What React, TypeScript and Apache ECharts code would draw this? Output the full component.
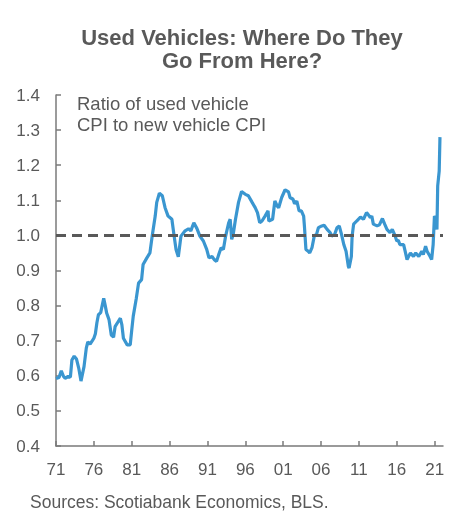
import React, { useEffect, useRef } from "react";
import * as echarts from "echarts";

const years: number[] = [
  1971.0, 1971.4, 1971.7, 1972.0, 1972.2, 1972.6, 1972.9, 1973.1, 1973.4, 1973.7,
  1974.0, 1974.3, 1974.7, 1975.0, 1975.2, 1975.5, 1975.8, 1976.0, 1976.2, 1976.4,
  1976.6, 1976.9, 1977.3, 1977.5, 1977.7, 1978.0, 1978.3, 1978.6, 1978.8, 1979.2,
  1979.5, 1979.7, 1979.9, 1980.4, 1980.8, 1981.0, 1981.2, 1981.6, 1981.9, 1982.3,
  1982.5, 1983.0, 1983.4, 1983.7, 1984.1, 1984.3, 1984.65, 1985.04, 1985.4, 1985.8,
  1986.3, 1986.6, 1986.85, 1987.15, 1987.5, 1988.0, 1988.5, 1988.8, 1989.2, 1989.6,
  1990.0, 1990.46, 1990.9, 1991.2, 1991.6, 1991.9, 1992.2, 1992.5, 1992.8, 1993.1,
  1993.4, 1993.8, 1994.0, 1994.2, 1994.4, 1994.7, 1995.1, 1995.5, 1996.0, 1996.4,
  1996.9, 1997.3, 1997.6, 1997.9, 1998.2, 1998.6, 1999.0, 1999.1, 1999.6, 1999.9,
  2000.2, 2000.4, 2000.8, 2001.25, 2001.7, 2001.9, 2002.3, 2002.5, 2002.8, 2003.1,
  2003.4, 2003.7, 2003.8, 2004.0, 2004.3, 2004.5, 2004.8, 2005.1, 2005.4, 2005.65,
  2006.1, 2006.4, 2006.8, 2007.2, 2007.4, 2007.8, 2008.1, 2008.4, 2008.7, 2009.0,
  2009.3, 2009.6, 2009.7, 2010.0, 2010.1, 2010.3, 2010.7, 2011.2, 2011.6, 2012.0,
  2012.2, 2012.5, 2012.7, 2012.9, 2013.4, 2013.7, 2014.1, 2014.4, 2014.7, 2015.1,
  2015.4, 2015.7, 2016.0, 2016.2, 2016.4, 2016.9, 2017.1, 2017.35, 2017.55, 2017.8,
  2018.2, 2018.5, 2018.9, 2019.3, 2019.5, 2019.8, 2020.0, 2020.4, 2020.6, 2020.8,
  2020.97, 2021.1, 2021.3, 2021.4, 2021.6, 2021.7,
];

const ratio: number[] = [
  0.592, 0.595, 0.614, 0.598, 0.593, 0.598, 0.596, 0.645, 0.656, 0.648,
  0.622, 0.585, 0.626, 0.679, 0.697, 0.69, 0.7, 0.707, 0.72, 0.751,
  0.774, 0.78, 0.821, 0.8, 0.778, 0.76, 0.716, 0.71, 0.74, 0.754,
  0.764, 0.745, 0.707, 0.688, 0.688, 0.73, 0.77, 0.82, 0.864, 0.874,
  0.917, 0.936, 0.95, 0.998, 1.055, 1.094, 1.12, 1.113, 1.079, 1.055,
  1.046, 0.998, 0.96, 0.939, 0.998, 1.012, 1.019, 1.013, 1.036, 1.02,
  0.998, 0.984, 0.96, 0.936, 0.94, 0.931, 0.926, 0.946, 0.965, 0.96,
  0.998, 1.036, 1.046, 0.989, 1.003, 1.046, 1.094, 1.125, 1.117, 1.113,
  1.094, 1.079, 1.065, 1.036, 1.041, 1.055, 1.07, 1.041, 1.046, 1.098,
  1.084, 1.079, 1.108, 1.13, 1.124, 1.108, 1.103, 1.09, 1.098, 1.07,
  1.07, 1.055, 1.027, 0.96, 0.955, 0.95, 0.965, 0.998, 1.003, 1.022,
  1.027, 1.029, 1.017, 1.008, 0.998, 1.003, 1.022, 1.027, 1.003, 0.974,
  0.955, 0.912, 0.907, 0.94, 0.998, 1.032, 1.041, 1.052, 1.046, 1.065,
  1.06, 1.051, 1.055, 1.032, 1.027, 1.03, 1.048, 1.032, 1.017, 1.008,
  1.017, 1.003, 0.984, 0.986, 0.974, 0.974, 0.955, 0.931, 0.94, 0.95,
  0.94, 0.95, 0.94, 0.955, 0.945, 0.969, 0.955, 0.94, 0.931, 0.974,
  1.055, 1.05, 1.017, 1.141, 1.184, 1.28,
];

const startYear = 1971;
const tickOffsets: number[] = [0, 5, 10, 15, 20, 25, 30, 35, 40, 45, 50];
const yTicks: number[] = [0.4, 0.5, 0.6, 0.7, 0.8, 0.9, 1.0, 1.1, 1.2, 1.3, 1.4];

const titleLines: string[] = ["Used Vehicles: Where Do They", "Go From Here?"];
const noteText = "Ratio of used vehicle\nCPI to new vehicle CPI";
const sourceText = "Sources: Scotiabank Economics, BLS.";

const FONT = "'Liberation Sans', Arial, sans-serif";
const GREY = "#595959";

export default function App() {
  const ref = useRef<HTMLDivElement>(null);
  useEffect(() => {
    if (!ref.current) return;
    const chart = echarts.init(ref.current, null, { renderer: "svg" });
    const data = years.map((y, i) => [y - startYear, ratio[i]]);
    chart.setOption({
      animation: false,
      grid: { left: 56, right: 18, top: 95, bottom: 72, containLabel: false },
      xAxis: {
        type: "value",
        min: 0,
        max: 51.1,
        interval: 5,
        splitLine: { show: false },
        axisLine: { show: true, lineStyle: { color: "#7a7a7a", width: 1.5 } },
        axisTick: { show: true, inside: true, length: 5, customValues: tickOffsets, lineStyle: { color: "#7a7a7a", width: 1.5 } },
        axisLabel: {
          customValues: tickOffsets,
          color: GREY,
          fontSize: 17,
          fontFamily: FONT,
          margin: 15,
          formatter: (v: number) => String((startYear + Math.round(v)) % 100).padStart(2, "0"),
        },
      },
      yAxis: {
        type: "value",
        min: 0.4,
        max: 1.4,
        interval: 0.1,
        splitLine: { show: false },
        axisLine: { show: true, lineStyle: { color: "#7a7a7a", width: 1.5 } },
        axisTick: { show: true, inside: true, length: 5, customValues: yTicks, lineStyle: { color: "#7a7a7a", width: 1.5 } },
        axisLabel: {
          customValues: yTicks,
          color: GREY,
          fontSize: 17,
          fontFamily: FONT,
          margin: 16,
          formatter: (v: number) => v.toFixed(1),
        },
      },
      series: [
        {
          type: "line",
          data,
          showSymbol: false,
          lineStyle: { color: "#3a96d0", width: 3.2 },
          z: 3,
          markLine: {
            silent: true,
            symbol: ["none", "none"],
            label: { show: false },
            lineStyle: { color: GREY, width: 3, type: [10, 6] },
            data: [{ yAxis: 1.0 }],
            z: 4,
          },
        },
      ],
      graphic: [
        {
          type: "text",
          x: 242,
          y: 48,
          style: {
            text: titleLines[0],
            font: `bold 22px ${FONT}`,
            fill: GREY,
            textAlign: "center",
            textVerticalAlign: "bottom",
          },
        },
        {
          type: "text",
          x: 242,
          y: 71,
          style: {
            text: titleLines[1],
            font: `bold 22px ${FONT}`,
            fill: GREY,
            textAlign: "center",
            textVerticalAlign: "bottom",
          },
        },
        {
          type: "text",
          x: 77,
          y: 93,
          style: {
            text: noteText,
            font: `18.5px ${FONT}`,
            fill: GREY,
            textAlign: "left",
            textVerticalAlign: "top",
            lineHeight: 21,
          },
        },
        {
          type: "text",
          x: 30,
          y: 493,
          style: {
            text: sourceText,
            font: `17.5px ${FONT}`,
            fill: GREY,
            textAlign: "left",
            textVerticalAlign: "top",
          },
        },
      ],
    });
    return () => chart.dispose();
  }, []);
  return (
    <div
      ref={ref}
      style={{ position: "fixed", left: 0, top: 0, width: 461, height: 518 }}
    />
  );
}
